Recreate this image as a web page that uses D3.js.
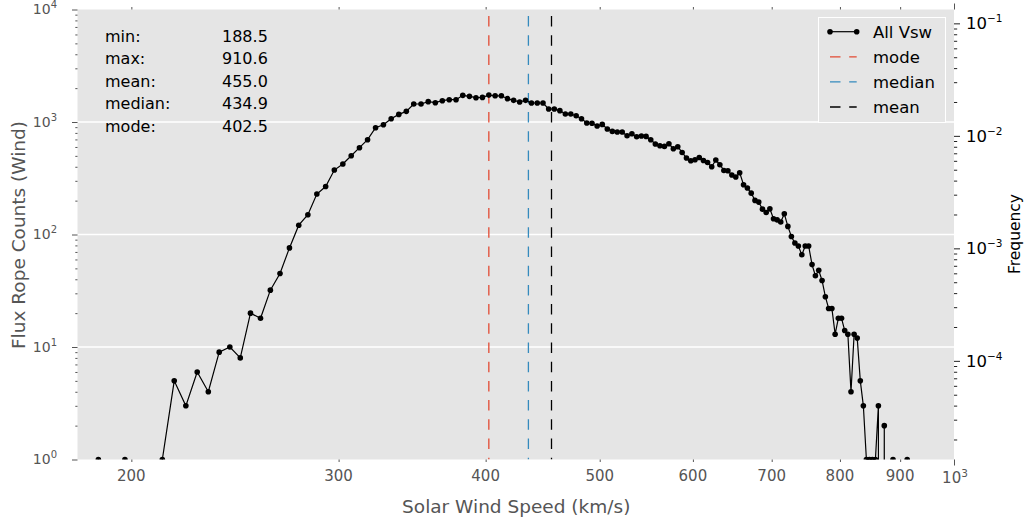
<!DOCTYPE html>
<html><head><meta charset="utf-8">
<script src="https://cdn.jsdelivr.net/npm/d3@7"></script>
<style>
body{margin:0;background:#fff;}
text{font-family:"DejaVu Sans",sans-serif;}
</style></head><body>
<svg id="chart" width="1026" height="523"></svg>
<script>
// ---------- data ----------
const speeds = [187.5,192.5,197.5,202.5,207.5,212.5,217.5,222.5,227.5,232.5,237.5,242.5,247.5,252.5,257.5,262.5,267.5,272.5,277.5,282.5,
287.5,292.5,297.5,302.5,307.5,312.5,317.5,322.5,327.5,332.5,337.5,342.5,347.5,352.5,357.5,362.5,367.5,372.5,377.5,382.5,
387.5,392.5,397.5,402.5,407.5,412.5,417.5,422.5,427.5,432.5,437.5,442.5,447.5,452.5,457.5,462.5,467.5,472.5,477.5,482.5,
487.5,492.5,497.5,502.5,507.5,512.5,517.5,522.5,527.5,532.5,537.5,542.5,547.5,552.5,557.5,562.5,567.5,572.5,577.5,582.5,
587.5,592.5,597.5,602.5,607.5,612.5,617.5,622.5,627.5,632.5,637.5,642.5,647.5,652.5,657.5,662.5,667.5,672.5,677.5,682.5,
687.5,692.5,697.5,702.5,707.5,712.5,717.5,722.5,727.5,732.5,737.5,742.5,747.5,752.5,757.5,762.5,767.5,772.5,777.5,782.5,
787.5,792.5,797.5,802.5,807.5,812.5,817.5,822.5,827.5,832.5,837.5,842.5,847.5,852.5,857.5,862.5,867.5,872.5,877.5,882.5,
887.5,892.5,897.5,902.5,907.5,912.5];
const counts = [1,0,1,0,0,1,5,3,6,4,9,10,8,20,18,32,45,76,121,150,
229,267,374,423,501,591,696,890,946,1070,1168,1243,1446,1446,1516,1485,1547,1579,1579,1725,
1690,1645,1655,1735,1710,1710,1612,1557,1507,1557,1476,1476,1476,1305,1305,1261,1178,1178,1138,1070,
980,975,921,952,866,825,815,815,755,787,740,751,745,696,637,615,607,641,579,603,
536,478,453,462,484,455,437,400,459,417,371,369,338,324,354,277,259,233,201,194,
168,157,169,138,135,129,153,118,96,84,79,66,79,79,54,43,48,39,28,22,
22,13,18,18,14,13,4,13,12,5,3,1,1,1,1,3,0,2,0,0,
1,0,0,0,0,1];
const statLabels = ["min:","max:","mean:","median:","mode:"];
const statValues = ["188.5","910.6","455.0","434.9","402.5"];
const refNames = ["mode","median","mean"];
const refValues = [402.5, 434.9, 455.0];
const legendLabels = ["All Vsw","mode","median","mean"];
const xTickValues = [200,300,400,500,600,700,800,900];
const xTickLabels = ["200","300","400","500","600","700","800","900"];
const yMajorExps = [0,1,2,3,4];
const freqMajorExps = [-1,-2,-3,-4];

// ---------- layout ----------
const L=77.5, R=954, T=9.5, B=459.5;
const refColors = ["#E24A33","#348ABD","#000000"];
const gray = "#555555";
const svg = d3.select("#chart");

const x = d3.scaleLog().domain([180,1000]).range([L,R]);
const y = d3.scaleLog().domain([1,1e4]).range([B,T]);
const N = d3.sum(counts);
const yR = d3.scaleLog().domain([1/N,1e4/N]).range([B,T]);

svg.append("defs").append("clipPath").attr("id","plotclip")
  .append("rect").attr("x",L).attr("y",T).attr("width",R-L).attr("height",B-T);

svg.append("rect").attr("x",L).attr("y",T).attr("width",R-L).attr("height",B-T).attr("fill","#E5E5E5");

// grid (major y)
svg.append("g").selectAll("line").data(yMajorExps.slice(1,4).map(e=>Math.pow(10,e))).join("line")
  .attr("x1",L).attr("x2",R).attr("y1",d=>y(d)).attr("y2",d=>y(d))
  .attr("stroke","#ffffff").attr("stroke-width",1.3);

// ---------- axes ticks ----------
function styleAxis(g,color){ g.select(".domain").remove(); g.selectAll(".tick line").attr("stroke",color); g.selectAll(".tick text").remove(); }

const yMajor = yMajorExps.map(e=>Math.pow(10,e));
const yMinor = [];
for (let e=0;e<4;e++) for (let m=2;m<10;m++) yMinor.push(m*Math.pow(10,e));
svg.append("g").attr("transform",`translate(${L},0)`).call(d3.axisLeft(y).tickValues(yMajor).tickSize(5.5).tickFormat(""))
  .call(g=>styleAxis(g,gray));
svg.append("g").attr("transform",`translate(${L},0)`).call(d3.axisLeft(y).tickValues(yMinor).tickSize(2.2).tickFormat(""))
  .call(g=>styleAxis(g,gray));

const fMajor = freqMajorExps.map(e=>Math.pow(10,e));
const fMinor = [];
for (let e=-5;e<0;e++) for (let m=2;m<10;m++){ const v=m*Math.pow(10,e); if (v>=yR.domain()[0] && v<=yR.domain()[1]) fMinor.push(v); }
svg.append("g").attr("transform",`translate(${R},0)`).call(d3.axisRight(yR).tickValues(fMajor).tickSize(6).tickFormat(""))
  .call(g=>styleAxis(g,"#222"));
svg.append("g").attr("transform",`translate(${R},0)`).call(d3.axisRight(yR).tickValues(fMinor).tickSize(3.2).tickFormat(""))
  .call(g=>styleAxis(g,"#222"));

svg.append("g").attr("transform",`translate(0,${B})`).call(d3.axisBottom(x).tickValues(xTickValues).tickSize(2.5).tickFormat(""))
  .call(g=>styleAxis(g,gray));
svg.append("g").attr("transform",`translate(0,${B})`).call(d3.axisBottom(x).tickValues([1000]).tickSize(6).tickFormat(""))
  .call(g=>styleAxis(g,gray));
svg.append("g").attr("transform",`translate(0,${T})`).call(d3.axisTop(x).tickValues(xTickValues).tickSize(2.5).tickFormat(""))
  .call(g=>styleAxis(g,gray));
svg.append("g").attr("transform",`translate(0,${T})`).call(d3.axisTop(x).tickValues([1000]).tickSize(6).tickFormat(""))
  .call(g=>styleAxis(g,gray));

// tick labels
function powLabel(parent, px, py, exp, anchor, size, supSize, supShift, color){
  const t = parent.append("text").attr("x",px).attr("y",py).attr("text-anchor",anchor)
    .attr("fill",color).attr("font-size",size);
  t.append("tspan").text("10");
  t.append("tspan").attr("font-size",supSize).attr("dy",-supShift).text(String(exp).replace("-","\u2212"));
  return t;
}
const labG = svg.append("g");
yMajorExps.forEach(e=>powLabel(labG, 57, y(Math.pow(10,e))+4.5, e, "end", 14, 10, 6, gray));
freqMajorExps.forEach(e=>powLabel(labG, 966, yR(Math.pow(10,e))+6, e, "start", 16.5, 10.5, 7, "#000"));
labG.selectAll(".xl").data(xTickValues).join("text").attr("class","xl")
  .attr("x",d=>x(d)).attr("y",B+21).attr("text-anchor","middle").attr("fill",gray).attr("font-size",15)
  .text((d,i)=>xTickLabels[i]);
powLabel(labG, x(1000)+1, B+23, 3, "middle", 15, 10.5, 6, gray);

// axis titles
svg.append("text").attr("x",(L+R)/2+0.5).attr("y",513).attr("text-anchor","middle").attr("fill",gray)
  .attr("font-size",18.5).text("Solar Wind Speed (km/s)");
svg.append("text").attr("transform","translate(25,235) rotate(-90)").attr("text-anchor","middle").attr("fill",gray)
  .attr("font-size",18.5).text("Flux Rope Counts (Wind)");
svg.append("text").attr("transform","translate(1020,234) rotate(-90)").attr("text-anchor","middle").attr("fill","#000")
  .attr("font-size",15.5).text("Frequency");

// ---------- data marks ----------
const plot = svg.append("g").attr("clip-path","url(#plotclip)");
const pts = speeds.map((s,i)=>({s:s,c:counts[i]}));
const yv = d => d.c>0 ? y(d.c) : y(1e-30);

// reference lines
refValues.forEach((v,i)=>{
  plot.append("line").attr("x1",x(v)).attr("x2",x(v)).attr("y1",B).attr("y2",T)
    .attr("stroke",refColors[i]).attr("stroke-width",1.3)
    .attr("stroke-dasharray","10.5,8.7").attr("stroke-dashoffset",8.7);
});

plot.append("path").datum(pts)
  .attr("d",d3.line().x(d=>x(d.s)).y(yv))
  .attr("fill","none").attr("stroke","#000").attr("stroke-width",1.2);
plot.selectAll("circle").data(pts.filter(d=>d.c>0)).join("circle")
  .attr("cx",d=>x(d.s)).attr("cy",d=>y(d.c)).attr("r",2.8).attr("fill","#000");

// ---------- stats text ----------
const st = svg.append("g");
statLabels.forEach((lab,i)=>{
  st.append("text").attr("x",105).attr("y",42+i*22.4).attr("font-size",16).attr("fill","#000").text(lab);
  st.append("text").attr("x",222).attr("y",42+i*22.4).attr("font-size",16).attr("fill","#000").text(statValues[i]);
});

// ---------- legend ----------
const lg = svg.append("g");
lg.append("rect").attr("x",818.5).attr("y",17.5).attr("width",127).attr("height",105)
  .attr("fill","#E5E5E5").attr("stroke","#ffffff").attr("stroke-width",1);
const rowY = i => 31.7 + i*25.1;
lg.append("line").attr("x1",830).attr("x2",856.7).attr("y1",rowY(0)).attr("y2",rowY(0)).attr("stroke","#000").attr("stroke-width",1.2);
[830,856.7].forEach(cx=>lg.append("circle").attr("cx",cx).attr("cy",rowY(0)).attr("r",2.8).attr("fill","#000"));
refNames.forEach((n,i)=>{
  lg.append("line").attr("x1",830).attr("x2",856.7).attr("y1",rowY(i+1)).attr("y2",rowY(i+1))
    .attr("stroke",refColors[i]).attr("stroke-width",1.3).attr("stroke-dasharray","10.5,8.7");
});
legendLabels.forEach((t,i)=>{
  lg.append("text").attr("x",873).attr("y",rowY(i)+6).attr("font-size",16.5).attr("fill","#000").text(t);
});
</script>
</body></html>
